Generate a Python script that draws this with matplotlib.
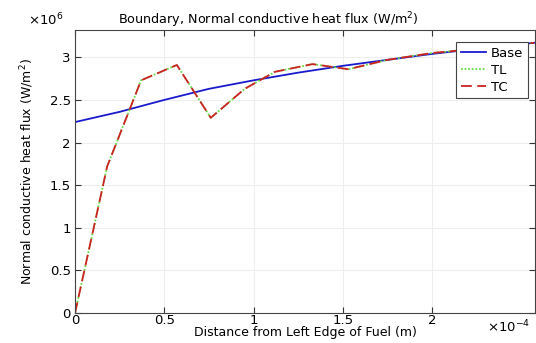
import numpy as np
import matplotlib
matplotlib.use("Agg")
import matplotlib.pyplot as plt
from matplotlib.ticker import FuncFormatter

# distance along boundary (m) and normal conductive heat flux (W/m^2)
x_base = np.array([0, 0.25, 0.5, 0.75, 1.0, 1.25, 1.5, 1.75, 2.0, 2.25, 2.57]) * 1e-4
q_base = np.array([2.24, 2.36, 2.50, 2.63, 2.73, 2.82, 2.90, 2.97, 3.04, 3.10, 3.17]) * 1e6

x_tc = np.array([0, 0.18, 0.37, 0.57, 0.76, 0.95, 1.12, 1.33, 1.53, 1.75, 2.0, 2.25, 2.57]) * 1e-4
q_tc = np.array([0, 1.72, 2.73, 2.91, 2.29, 2.63, 2.83, 2.92, 2.86, 2.97, 3.05, 3.10, 3.17]) * 1e6
q_tl = np.array([0, 1.72, 2.73, 2.91, 2.29, 2.63, 2.83, 2.92, 2.86, 2.97, 3.05, 3.10, 3.17]) * 1e6

fig = plt.figure(figsize=(5.36, 3.43), dpi=100)
ax = fig.add_axes([0.140, 0.0875, 0.858, 0.825])

ax.plot(x_base, q_base, color="#1a1acc", lw=1.3, label="Base")
ax.plot(x_tc, q_tl, color="#66dd44", lw=1.3, ls=(0, (1, 1)), label="TL")
ax.plot(x_tc, q_tc, color="#cc2222", lw=1.3, ls=(0, (6, 3)), label="TC")

ax.set_xlim(0, 2.575e-4)
ax.set_ylim(0, 3.32e6)
ax.set_xticks(np.array([0, 0.5, 1, 1.5, 2]) * 1e-4)
ax.set_yticks(np.array([0, 0.5, 1, 1.5, 2, 2.5, 3]) * 1e6)
ax.xaxis.set_major_formatter(FuncFormatter(lambda v, p: "%g" % round(v * 1e4, 3)))
ax.yaxis.set_major_formatter(FuncFormatter(lambda v, p: "%g" % round(v / 1e6, 3)))
ax.tick_params(direction="in", top=True, right=True, length=4, labelsize=9.5,
               color="#333333")
ax.tick_params(axis="x", pad=1)
ax.tick_params(axis="y", pad=3)
ax.grid(True, color="#eeeeee", lw=0.8)
for s in ax.spines.values():
    s.set_color("#444444")

ax.text(-0.025, 1.005, r"$\times10^{6}$", transform=ax.transAxes, ha="right", va="bottom", fontsize=9.5)
ax.text(0.99, -0.02, r"$\times10^{-4}$", transform=ax.transAxes, ha="right", va="top", fontsize=9.5)

fig.suptitle("Boundary, Normal conductive heat flux (W/m$^2$)", fontsize=9.2, x=0.5, y=0.942, va="center")
ax.set_xlabel("Distance from Left Edge of Fuel (m)", fontsize=9, labelpad=-1)
ax.set_ylabel("Normal conductive heat flux (W/m$^2$)", fontsize=9, labelpad=10)

leg = ax.legend(loc="upper right", bbox_to_anchor=(0.985, 0.957), fontsize=9.5, fancybox=False,
                framealpha=1, edgecolor="#444444", handlelength=1.9, borderpad=0.35,
                labelspacing=0.3, handletextpad=0.4, borderaxespad=0)
leg.get_frame().set_linewidth(0.8)

fig.savefig("out.png", dpi=100)
